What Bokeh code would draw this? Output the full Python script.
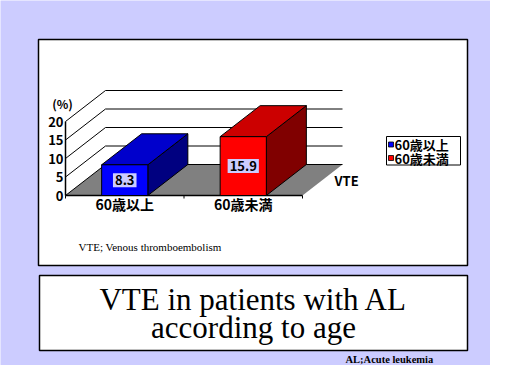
from bokeh.plotting import figure
from bokeh.models import Range1d
from bokeh.core.properties import value
from bokeh.embed import file_html
from bokeh.resources import INLINE

# ---------------- data ----------------
categories = ["60歳以上", "60歳未満"]
values = [8.3, 15.9]
front_colors = ["#0000FF", "#FF0000"]
top_colors = ["#0000CC", "#CC0000"]
side_colors = ["#000080", "#800000"]
y_ticks = [0, 5, 10, 15, 20]
y_tick_labels = ["0", "5", "10", "15", "20"]
series_name = "VTE"
y_unit_label = "(%)"
title_lines = ["VTE in patients with AL", "according to age"]
note_left = "VTE; Venous thromboembolism"
note_right = "AL;Acute leukemia"

# ---------------- geometry (page pixels of reference) ----------------
W, H, M = 490, 365, 0
AX_X0 = 65.0     # page px of category origin
CW = 118.5       # px per category
Y0 = 195.0       # page px of value 0
S = 3.7          # px per percent
DEPTH_PX = (40.0, 31.0)
BAR_W = 0.39

xs = -(AX_X0 - M) / CW
xe = xs + W / CW
ye = (Y0 - M) / S
ys = ye - H / S
DX = DEPTH_PX[0] / CW
DY = DEPTH_PX[1] / S


def fx(rx):
    return xs + (rx - M) / W * (xe - xs)


def fy(ry):
    return ye - (ry - M) / H * (ye - ys)


p = figure(width=W, height=H, output_backend="svg", toolbar_location=None,
           x_range=Range1d(xs, xe), y_range=Range1d(ys, ye),
           x_axis_type=None, y_axis_type=None, min_border=0)
p.grid.visible = False
p.outline_line_color = None
p.background_fill_color = "#CCCCFF"
p.border_fill_color = "#CCCCFF"

CJK = value("Noto Sans CJK JP")
SERIF = value('"Liberation Serif", serif')

# slide panels
p.quad(left=[fx(38)], right=[fx(467)], top=[fy(39)], bottom=[fy(265)],
       fill_color="white", line_color="black", line_width=1.5)
p.quad(left=[fx(39)], right=[fx(467)], top=[fy(275)], bottom=[fy(350)],
       fill_color="white", line_color="black", line_width=1.5)

n = len(categories)
vmax = max(y_ticks)

# floor
p.patch([0, n, n + DX, DX], [0, 0, DY, DY], fill_color="#808080",
        line_color=None)
# back wall gridlines and side wall diagonals
for t in y_ticks:
    p.line([DX, n + DX], [t + DY, t + DY], line_color="black", line_width=1)
    p.line([0, DX], [t, t + DY], line_color="black", line_width=1)
# axes
p.line([0, 0], [0, vmax], line_color="black", line_width=1.5)
p.line([0, n], [0, 0], line_color="black", line_width=1.5)
tick_len = 3.0 / S
for i in range(n + 1):
    p.line([i, i], [0, -tick_len], line_color="black", line_width=1)

# bars
for i, (v, fc, tc, sc) in enumerate(zip(values, front_colors, top_colors, side_colors)):
    c = i + 0.5
    l, r = c - BAR_W / 2, c + BAR_W / 2
    p.patch([r, r + DX, r + DX, r], [0, DY, v + DY, v], fill_color=sc,
            line_color="black", line_width=1)
    p.patch([l, r, r + DX, l + DX], [v, v, v + DY, v + DY], fill_color=tc,
            line_color="black", line_width=1)
    p.quad(left=[l], right=[r], bottom=[0], top=[v], fill_color=fc,
           line_color="black", line_width=1)

# value labels
p.text(x=[i + 0.5 for i in range(n)], y=[v / 2 for v in values],
       text=[f"{v}" for v in values], text_align="center",
       text_baseline="middle", text_font=CJK, text_font_style="bold",
       text_font_size="13px", text_color="black",
       background_fill_color="#CCCCFF", padding=2)

# y tick labels
p.text(x=[fx(63)] * len(y_ticks), y=y_ticks, text=y_tick_labels,
       text_align="right", text_baseline="middle", text_font=CJK,
       text_font_style="bold", text_font_size="13px", text_color="black")
p.text(x=[fx(62)], y=[fy(103)], text=[y_unit_label], text_align="center",
       text_baseline="middle", text_font=CJK, text_font_style="bold",
       text_font_size="12px", text_color="black")

# category labels
p.text(x=[i + 0.5 for i in range(n)], y=[fy(203)] * n, text=categories,
       text_align="center", text_baseline="middle", text_font=CJK,
       text_font_style="bold", text_font_size="14px", text_color="black")

# series (depth axis) label
p.text(x=[fx(334)], y=[fy(180)], text=[series_name], text_align="left",
       text_baseline="middle", text_font=CJK, text_font_style="bold",
       text_font_size="13px", text_color="black")

# legend
p.quad(left=[fx(386)], right=[fx(460)], top=[fy(136)], bottom=[fy(164.5)],
       fill_color="white", line_color="black", line_width=1)
leg_y = [144, 157.5]
for ry, col, name in zip(leg_y, front_colors, categories):
    p.quad(left=[fx(388)], right=[fx(393)], top=[fy(ry - 2.5)],
           bottom=[fy(ry + 2.5)], fill_color=col, line_color="black",
           line_width=0.8)
    p.text(x=[fx(394)], y=[fy(ry)], text=[name], text_align="left",
           text_baseline="middle", text_font=CJK, text_font_style="bold",
           text_font_size="13px", text_color="black")

# notes
p.text(x=[fx(78)], y=[fy(246)], text=[note_left], text_align="left",
       text_baseline="middle", text_font=SERIF, text_font_size="11px",
       text_color="black")
p.text(x=[fx(345)], y=[fy(359)], text=[note_right], text_align="left",
       text_baseline="middle", text_font=SERIF, text_font_style="bold",
       text_font_size="10.5px", text_color="black")

# title
p.text(x=[fx(253)] * 2, y=[fy(299), fy(327)], text=title_lines,
       text_align="center", text_baseline="alphabetic", text_font=SERIF,
       text_font_size="31px", text_color="black")

open("out.html", "w").write(file_html(p, INLINE))
